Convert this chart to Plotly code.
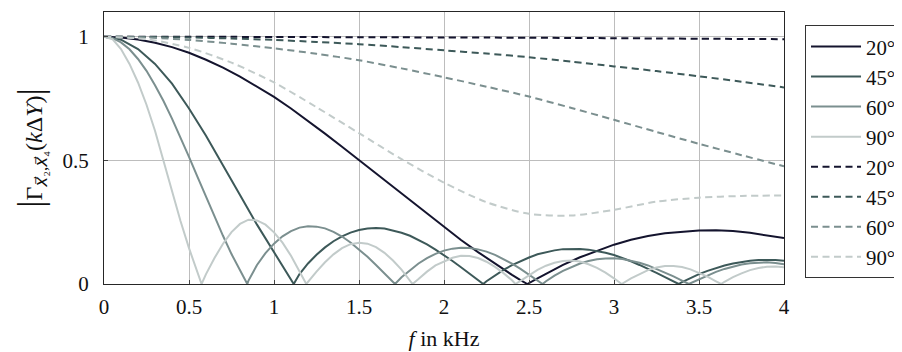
import plotly.graph_objects as go

# ---------------- data ----------------
angles = ["20°", "45°", "60°", "90°"]
x_ticks = [0, 0.5, 1, 1.5, 2, 2.5, 3, 3.5, 4]
x_tick_text = ["0", "0.5", "1", "1.5", "2", "2.5", "3", "3.5", "4"]
y_ticks = [0, 0.5, 1]
y_tick_text = ["0", "0.5", "1"]

# solid 20°
s20_f = [0, 0.1, 0.2, 0.3, 0.4, 0.5, 0.6, 0.7, 0.8, 0.9, 1.0, 1.1, 1.2, 1.3, 1.4, 1.5,
         1.6, 1.7, 1.8, 1.9, 2.0, 2.1, 2.2, 2.3, 2.4, 2.45, 2.49, 2.55, 2.6, 2.7, 2.8,
         2.9, 3.0, 3.1, 3.2, 3.3, 3.4, 3.5, 3.6, 3.7, 3.8, 3.9, 4.0]
s20_v = [1.0, 0.997, 0.989, 0.976, 0.958, 0.935, 0.907, 0.875, 0.839, 0.798, 0.757,
         0.71, 0.66, 0.608, 0.555, 0.501, 0.446, 0.391, 0.337, 0.283, 0.23, 0.178,
         0.129, 0.082, 0.037, 0.016, 0.0, 0.023, 0.042, 0.077, 0.108, 0.135, 0.159,
         0.179, 0.194, 0.205, 0.212, 0.216, 0.217, 0.214, 0.207, 0.198, 0.186]

# solid 45°
s45_f = [0, 0.1, 0.2, 0.3, 0.4, 0.5, 0.6, 0.7, 0.8, 0.9, 1.0, 1.05, 1.116,
         1.15, 1.2, 1.25, 1.3, 1.35, 1.4, 1.45, 1.5, 1.55, 1.6, 1.65, 1.7, 1.75, 1.8,
         1.85, 1.9, 1.95, 2.0, 2.05, 2.1, 2.15, 2.2, 2.231,
         2.25, 2.3, 2.35, 2.4, 2.45, 2.5, 2.55, 2.6, 2.65, 2.7, 2.75, 2.8, 2.85, 2.9,
         2.95, 3.0, 3.05, 3.1, 3.15, 3.2, 3.25, 3.3, 3.35, 3.38,
         3.4, 3.45, 3.5, 3.55, 3.6, 3.65, 3.7, 3.75, 3.8, 3.85, 3.9, 3.95, 4.0]
s45_v = [1.0, 0.988, 0.95, 0.89, 0.81, 0.71, 0.6, 0.482, 0.36, 0.24, 0.13, 0.075, 0.0,
         0.04, 0.083, 0.118, 0.148, 0.173, 0.193, 0.208, 0.218, 0.224, 0.226, 0.224,
         0.217, 0.207, 0.195, 0.179, 0.16, 0.139, 0.117, 0.093, 0.068, 0.042, 0.016, 0.0,
         0.011, 0.035, 0.057, 0.076, 0.093, 0.107, 0.12, 0.129, 0.136, 0.141, 0.143,
         0.142, 0.139, 0.134, 0.126, 0.117, 0.105, 0.092, 0.077, 0.062, 0.045, 0.028,
         0.011, 0.0,
         0.008, 0.025, 0.04, 0.053, 0.065, 0.075, 0.083, 0.09, 0.094, 0.097, 0.098,
         0.097, 0.094]

# solid 60°
s60_f = [0, 0.05, 0.1, 0.15, 0.2, 0.25, 0.3, 0.35, 0.4, 0.45, 0.5, 0.55, 0.6, 0.65,
         0.7, 0.75, 0.8, 0.843,
         0.85, 0.9, 0.95, 1.0, 1.05, 1.1, 1.15, 1.2, 1.25, 1.3, 1.35, 1.4, 1.45, 1.5,
         1.55, 1.6, 1.65, 1.712,
         1.75, 1.8, 1.85, 1.9, 1.95, 2.0, 2.05, 2.1, 2.15, 2.2, 2.25, 2.3, 2.35, 2.4,
         2.45, 2.5, 2.55, 2.58,
         2.6, 2.65, 2.7, 2.75, 2.8, 2.85, 2.9, 2.95, 3.0, 3.05, 3.1, 3.15, 3.2, 3.25,
         3.3, 3.35, 3.4, 3.44,
         3.45, 3.5, 3.55, 3.6, 3.65, 3.7, 3.75, 3.8, 3.85, 3.9, 3.95, 4.0]
s60_v = [1.0, 0.994, 0.977, 0.949, 0.91, 0.862, 0.804, 0.74, 0.669, 0.593, 0.514,
         0.433, 0.352, 0.272, 0.195, 0.121, 0.053, 0.0,
         0.014, 0.077, 0.125, 0.163, 0.193, 0.214, 0.228, 0.234, 0.232, 0.225, 0.211,
         0.192, 0.168, 0.14, 0.11, 0.077, 0.043, 0.0,
         0.027, 0.057, 0.083, 0.105, 0.122, 0.135, 0.143, 0.147, 0.146, 0.14, 0.131,
         0.118, 0.101, 0.082, 0.061, 0.038, 0.014, 0.0,
         0.011, 0.034, 0.053, 0.069, 0.083, 0.093, 0.1, 0.103, 0.104, 0.101, 0.095,
         0.086, 0.075, 0.061, 0.047, 0.031, 0.014, 0.0,
         0.003, 0.019, 0.035, 0.049, 0.061, 0.071, 0.079, 0.084, 0.087, 0.088, 0.085,
         0.08]

# solid 90°
s90_f = [0, 0.05, 0.1, 0.15, 0.2, 0.25, 0.3, 0.35, 0.4, 0.45, 0.5, 0.55, 0.574,
         0.6, 0.65, 0.7, 0.75, 0.8, 0.85, 0.9, 0.95, 1.0, 1.05, 1.1, 1.15, 1.19,
         1.25, 1.3, 1.35, 1.4, 1.45, 1.5, 1.55, 1.6, 1.65, 1.7, 1.75, 1.8, 1.815,
         1.85, 1.9, 1.95, 2.0, 2.05, 2.1, 2.15, 2.2, 2.25, 2.3, 2.35, 2.4, 2.42,
         2.45, 2.5, 2.55, 2.6, 2.65, 2.7, 2.75, 2.8, 2.85, 2.9, 2.95, 3.0, 3.045,
         3.1, 3.15, 3.2, 3.25, 3.3, 3.35, 3.4, 3.45, 3.5, 3.55, 3.6, 3.63,
         3.65, 3.7, 3.75, 3.8, 3.85, 3.9, 3.95, 4.0]
s90_v = [1.0, 0.99, 0.95, 0.89, 0.815, 0.725, 0.62, 0.495, 0.37, 0.255, 0.145, 0.045,
         0.0,
         0.04, 0.105, 0.163, 0.21, 0.243, 0.26, 0.257, 0.24, 0.209, 0.167, 0.114,
         0.052, 0.0,
         0.05, 0.088, 0.12, 0.145, 0.161, 0.167, 0.163, 0.149, 0.126, 0.095, 0.058,
         0.014, 0.0,
         0.02, 0.05, 0.075, 0.092, 0.106, 0.114, 0.113, 0.105, 0.09, 0.069, 0.044,
         0.015, 0.0,
         0.013, 0.036, 0.057, 0.074, 0.086, 0.093, 0.095, 0.091, 0.08, 0.065, 0.046,
         0.023, 0.0,
         0.023, 0.041, 0.056, 0.067, 0.073, 0.073, 0.069, 0.059, 0.046, 0.03, 0.011,
         0.0,
         0.009, 0.028, 0.043, 0.056, 0.065, 0.07, 0.071, 0.068]

# dashed curves
d_f = [0, 0.25, 0.5, 0.75, 1.0, 1.25, 1.5, 1.75, 2.0, 2.25, 2.5, 2.75, 3.0, 3.25,
       3.5, 3.75, 4.0]
d20_v = [1.0, 1.0, 1.0, 0.9995, 0.999, 0.9985, 0.998, 0.9975, 0.997, 0.9965, 0.996,
         0.995, 0.994, 0.993, 0.992, 0.991, 0.99]
d45_v = [1.0, 0.999, 0.997, 0.993, 0.987, 0.979, 0.97, 0.958, 0.945, 0.932, 0.917,
         0.899, 0.88, 0.861, 0.84, 0.818, 0.795]
d60_v = [1.0, 0.997, 0.987, 0.972, 0.953, 0.931, 0.905, 0.872, 0.836, 0.798, 0.758,
         0.712, 0.664, 0.615, 0.567, 0.521, 0.476]
d90_v = [1.0, 0.99, 0.955, 0.895, 0.815, 0.715, 0.61, 0.505, 0.41, 0.331, 0.284,
         0.277, 0.3, 0.333, 0.349, 0.356, 0.358]

# ---------------- styling ----------------
colors = ["#14142e", "#3d5959", "#7b8f8f", "#c2cbca"]
FONT = "Liberation Serif, Times New Roman, Times, serif"

solid = [(s20_f, s20_v), (s45_f, s45_v), (s60_f, s60_v), (s90_f, s90_v)]
dashed = [d20_v, d45_v, d60_v, d90_v]

fig = go.Figure()
for name, (fx, fv), c in zip(angles, solid, colors):
    fig.add_trace(go.Scatter(x=fx, y=fv, mode="lines", name=name,
                             line=dict(color=c, width=2)))
for name, dv, c in zip(angles, dashed, colors):
    fig.add_trace(go.Scatter(x=d_f, y=dv, mode="lines", name=name,
                             line=dict(color=c, width=2, dash="7px,4.5px",
                                       shape="spline", smoothing=0.8)))

axis_common = dict(
    showline=True, mirror=True, linecolor="#262626", linewidth=1,
    showgrid=True, gridcolor="#bdbdbd", gridwidth=1,
    zeroline=False, ticks="inside", ticklen=4, tickcolor="#444",
    tickfont=dict(family=FONT, size=21, color="#111"),
)

fig.update_xaxes(range=[0, 4], tickvals=x_ticks, ticktext=x_tick_text,
                 ticklabelstandoff=4,
                 title=dict(text="<i>f</i> in kHz", standoff=12,
                            font=dict(family=FONT, size=22, color="#111")),
                 **axis_common)

xv = '<span style="font-family:DejaVu Sans"><i>x\u20d7</i></span>'
ytitle = ('<span style="font-size:36px">|</span>Γ<sub>' + xv + '₂,' + xv + '₄</sub>'
          '(<i>k</i>Δ<i>Y</i>)<span style="font-size:36px">|</span>')
fig.update_yaxes(range=[0, 1.1], tickvals=y_ticks, ticktext=y_tick_text,
                 ticklabelstandoff=10,
                 title=dict(text=ytitle, standoff=13,
                            font=dict(family=FONT, size=24, color="#111")),
                 **axis_common)

# the page adds an 8 px body margin, so the figure is sized 8 px smaller
fig.update_layout(
    width=894, height=344,
    margin=dict(l=96, r=118, t=4, b=68, autoexpand=False),
    paper_bgcolor="white", plot_bgcolor="white",
    font=dict(family=FONT, size=20, color="#111"),
    legend=dict(x=1.0309, y=0.9504, xanchor="left", yanchor="top",
                bordercolor="#333", borderwidth=1, bgcolor="white",
                font=dict(family=FONT, size=20.8, color="#111"),
                itemwidth=50, tracegroupgap=0),
    showlegend=True,
)

fig.write_html("out.html")
